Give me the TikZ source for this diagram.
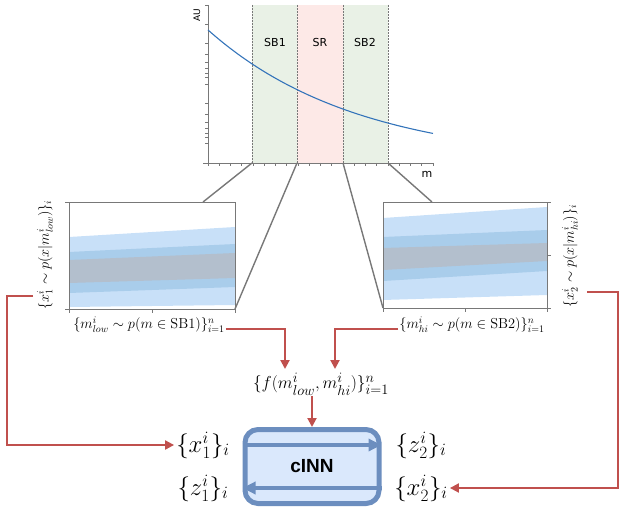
\documentclass[tikz,border=0pt]{standalone}
\usepackage[no-math]{fontspec}
\setsansfont{DejaVu Sans}
\newfontfamily\cinnfont{Liberation Sans}
\usepackage{amsmath, amssymb}
\usetikzlibrary{arrows.meta, positioning}

\definecolor{flowred}{RGB}{192,80,77}
\definecolor{boxblue}{RGB}{108,142,191}
\definecolor{boxfill}{RGB}{218,232,252}
\definecolor{curveblue}{RGB}{52,116,186}
\definecolor{sbgreen}{RGB}{233,241,230}
\definecolor{srpink}{RGB}{253,233,231}
\definecolor{bandouter}{RGB}{200,224,248}
\definecolor{bandmid}{RGB}{169,205,235}
\definecolor{bandinner}{RGB}{179,191,205}
\definecolor{axisgray}{RGB}{120,120,120}

\tikzset{
  flow/.style={draw=flowred, line width=2pt, -{Triangle[length=9pt, width=9pt]}},
  link/.style={draw=axisgray, line width=1.4pt},
  axisline/.style={draw=axisgray, line width=0.7pt},
  sbline/.style={draw=axisgray, line width=0.8pt, dash pattern=on 2pt off 1pt},
  bandtext/.style={font=\sffamily\fontsize{11}{13}\selectfont},
  smalllabel/.style={font=\fontsize{14}{16}\selectfont, inner sep=1pt},
  biglabel/.style={font=\fontsize{26}{30}\selectfont, inner sep=2pt},
  inner flow/.style={draw=boxblue, line width=4pt, -{Triangle[length=13pt, width=12pt]}}
}

\begin{document}
\begin{tikzpicture}[x=1pt, y=-1pt, >=Stealth]
  \useasboundingbox (0,0) rectangle (623,510);

  \fill[sbgreen] (252,5) rectangle (297,163);
  \fill[srpink] (297,5) rectangle (343,163);
  \fill[sbgreen] (343,5) rectangle (388,163);
  \foreach \x in {252,297,343,388}
    \draw[sbline] (\x,5) -- (\x,163);
  \draw[axisline] (208,5) -- (208,163) -- (433,163);
  \foreach \y in {5,24,43,54,62,68,73,77,84,103,114,122,128,133,137,143}
    \draw[axisline] (208,\y) -- (205,\y);
  \draw[axisline] (208,163) -- (203,163);
  \foreach \x in {208,219.25,...,434}
    \draw[axisline] (\x,163) -- (\x,166);
  \draw[curveblue, line width=1.1pt] plot[domain=208:433, samples=60]
    ({\x},{163-133*exp(-0.00669*(\x-208))});
  \node[bandtext] (sb1) at (275,42) {SB1};
  \node[bandtext] (sr) at (320,42) {SR};
  \node[bandtext] (sb2) at (365,42) {SB2};
  \node[font=\sffamily\fontsize{9}{10}\selectfont, rotate=90] (au) at (197,15) {AU};
  \node[bandtext] (mass) at (427,174) {m};

  \fill[bandouter] (69,237) -- (235,227) -- (235,305) -- (69,307) -- cycle;
  \fill[bandmid] (69,252) -- (235,244) -- (235,287) -- (69,293) -- cycle;
  \fill[bandinner] (69,260) -- (235,253) -- (235,278) -- (69,283) -- cycle;
  \draw[axisline] (69,202) rectangle (235,309);
  \foreach \y in {202,309}
    \draw[axisline] (69,\y) -- (65,\y);
  \foreach \x in {69,152,235}
    \draw[axisline] (\x,309) -- (\x,313);

  \fill[bandouter] (383,218) -- (547,207) -- (547,295) -- (383,300) -- cycle;
  \fill[bandmid] (383,237) -- (547,230) -- (547,271) -- (383,281) -- cycle;
  \fill[bandinner] (383,248) -- (547,243) -- (547,261) -- (383,270) -- cycle;
  \draw[axisline] (383,202) rectangle (547,308);
  \foreach \y in {202,255,308}
    \draw[axisline] (547,\y) -- (551,\y);
  \foreach \x in {383,465,547}
    \draw[axisline] (\x,308) -- (\x,312);

  \coordinate (sb1l) at (252,163);
  \coordinate (sb1r) at (297,163);
  \coordinate (sb2l) at (343,163);
  \coordinate (sb2r) at (388,163);
  \coordinate (lowtop) at (203,202);
  \coordinate (lowcorner) at (235,309);
  \coordinate (hicorner) at (383,308);
  \coordinate (hitop) at (432,202);
  \draw[link] (sb1l) -- (lowtop);
  \draw[link] (sb1r) -- (lowcorner);
  \draw[link] (sb2l) -- (hicorner);
  \draw[link] (sb2r) -- (hitop);

  \node[smalllabel, rotate=90] (xlow) at (45,255) {$\{x_1^i\sim p(x|m_{low}^i)\}_i$};
  \node[smalllabel, rotate=90] (xhi) at (570,256) {$\{x_2^i\sim p(x|m_{hi}^i)\}_i$};
  \node[smalllabel] (mlow) at (149,325) {$\{m^i_{low}\sim p(m\in\mathrm{SB1})\}_{i=1}^n$};
  \node[smalllabel] (mhi) at (472,325) {$\{m^i_{hi}\sim p(m\in\mathrm{SB2})\}_{i=1}^n$};
  \node[font=\fontsize{19}{23}\selectfont, inner sep=1pt] (fexpr) at (321,384) {$\{f(m^i_{low},m^i_{hi})\}_{i=1}^n$};

  \node[draw=boxblue, fill=boxfill, line width=5pt, rounded corners=13pt,
        minimum width=134pt, minimum height=74pt,
        font=\cinnfont\bfseries\fontsize{19}{22}\selectfont] (cinn) at (312,466.5) {cINN};
  \node[biglabel] (xone) at (203,445) {$\{x_1^i\}_i$};
  \node[biglabel] (zone) at (203,488) {$\{z_1^i\}_i$};
  \node[biglabel] (ztwo) at (421,445) {$\{z_2^i\}_i$};
  \node[biglabel] (xtwo) at (421,488) {$\{x_2^i\}_i$};
  \draw[inner flow] (cinn.west |- xone.east) -- (cinn.east |- xone.east);
  \draw[inner flow] (cinn.east |- xtwo.west) -- (cinn.west |- xtwo.west);

  \coordinate (lstart) at (33,296);
  \coordinate (lcorner) at (7,296);
  \coordinate (rstart) at (587,292);
  \coordinate (rcorner) at (618,292);
  \coordinate (fin1) at (285,369);
  \coordinate (fin2) at (335,369);
  \draw[flow] (lstart) -- (lcorner) |- (xone.west);
  \draw[flow] (rstart) -- (rcorner) |- (xtwo.east);
  \draw[flow] (mlow.base east) -| (fin1);
  \draw[flow] (mhi.base west) -| (fin2);
  \draw[flow] (fexpr.south -| cinn.north) -- (cinn.north);
\end{tikzpicture}
\end{document}
